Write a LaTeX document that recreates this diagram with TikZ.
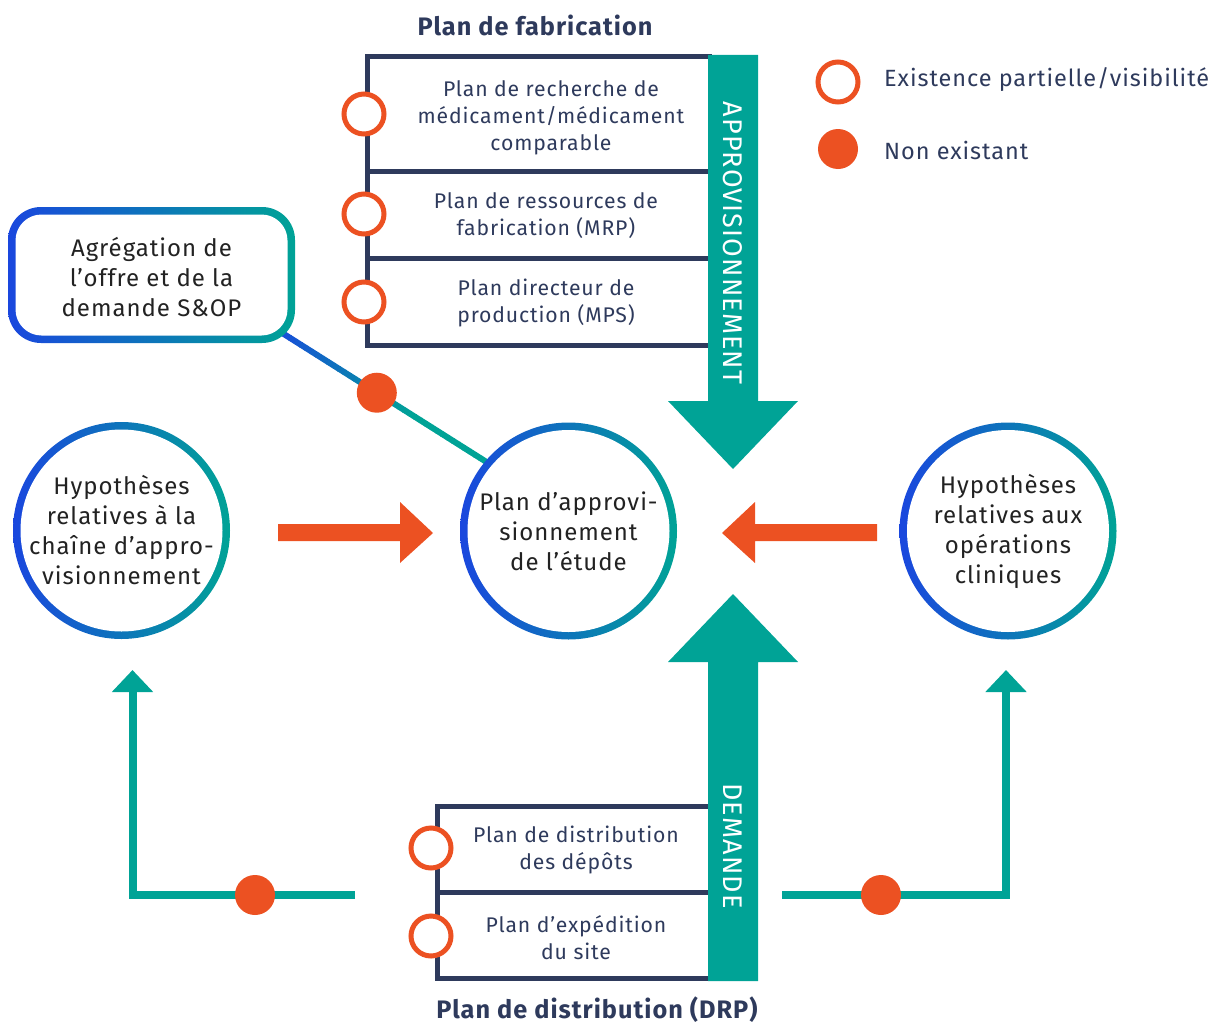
\documentclass[tikz,border=0pt]{standalone}
\usepackage{fontspec}
\setmainfont{Fira Sans}[LetterSpace=4]
\usetikzlibrary{calc,arrows.meta,backgrounds}
\definecolor{navy}{HTML}{2E3A5C}
\definecolor{teal1}{HTML}{00A396}
\definecolor{orng}{HTML}{EC5122}
\definecolor{blu}{HTML}{1A47DE}
\definecolor{txt}{HTML}{222222}
\tikzset{
 opendot/.style={circle, draw=orng, line width=5pt, fill=white, minimum size=40pt, inner sep=0pt},
 fulldot/.style={circle, fill=orng, minimum size=40pt, inner sep=0pt},
 boxtxt/.style={text=navy, align=center, font=\fontsize{21.2}{27}\selectfont},
 circtxt/.style={circle, minimum size=216pt, inner sep=0pt, text=txt, align=center, font=\fontsize{24}{30}\selectfont},
 navyline/.style={draw=navy, line width=5pt},
 tealline/.style={draw=teal1, line width=8pt},
 titletxt/.style={text=navy, inner sep=0pt, font=\fontsize{25.3}{30}\selectfont\bfseries},
 legtxt/.style={text=navy, anchor=west, inner sep=0pt, font=\fontsize{23.5}{28}\selectfont},
 bartxt/.style={text=white, rotate=-90, font=\fontsize{27}{30}\selectfont},
 tealtip/.style={-{Triangle[width=40pt,length=22pt]}},
}
\begin{document}
\begin{tikzpicture}[x=1pt,y=-1pt]
\useasboundingbox (0,0) rectangle (1215,1025);

% ---- main nodes
\node[circtxt] (hyp1) at (121.5,530.5) {Hypothèses\\relatives à la\\chaîne d’appro-\\visionnement};
\node[circtxt] (plan) at (568.5,531) {Plan d’approvi-\\sionnement\\de l’étude};
\node[circtxt] (hyp2) at (1008,531) {Hypothèses\\relatives aux\\opérations\\cliniques};
\node[minimum width=287pt, minimum height=136pt, inner sep=0pt, text=txt, align=center, font=\fontsize{24}{30}\selectfont] (sop) at (151.5,277) {Agrégation de\\l’offre et de la\\demande S\&OP};

% ---- background: gradient rings and connector
\begin{scope}[on background layer]
 \coordinate (l1) at (268,324);
 \coordinate (l2) at (plan.140);
 \foreach \i in {0,...,39}{
   \pgfmathsetmacro\ta{\i/40}
   \pgfmathsetmacro\tb{(\i+1.1)/40}
   \pgfmathsetmacro\p{max(0,100-\i*100/26)}
   \draw[line width=6pt, color=blu!\p!teal1] ($(l1)!\ta!(l2)$) -- ($(l1)!\tb!(l2)$);
 }
 \foreach \n in {hyp1,plan,hyp2}{
   \shade[left color=blu, right color=teal1] (\n.center) circle (108.5pt);
   \fill[white] (\n.center) circle (101pt);
 }
 \shade[left color=blu, right color=teal1, rounded corners=33pt] (8,207) rectangle (295,343);
 \fill[white, rounded corners=26pt] (15.5,214.5) rectangle (287.5,335.5);
\end{scope}
\node[fulldot] (d0) at ($(l1)!0.5!(l2)$) {};

% ---- top: plan de fabrication
\node[titletxt] (t1) at (535,25) {Plan de fabrication};
\draw[navyline] (712,57) -- (367,57) -- (367,345) -- (712,345);
\draw[navyline] (367,171) -- (712,171);
\draw[navyline] (367,258) -- (712,258);
\node[boxtxt] (b1) at (551,118) {Plan de recherche de\\médicament/médicament\\comparable};
\node[boxtxt] (b2) at (546,216) {Plan de ressources de\\fabrication (MRP)};
\node[boxtxt] (b3) at (546,303) {Plan directeur de\\production (MPS)};
\node[opendot] (o1) at (364,114) {};
\node[opendot] (o2) at (364,214) {};
\node[opendot] (o3) at (364,302) {};
\fill[teal1] (708,55) -- (758,55) -- (758,401) -- (798,401) -- (733,469) -- (668,401) -- (708,401) -- cycle;
\node[bartxt] (appro) at (733,243) {APPROVISIONNEMENT};

% ---- bottom: plan de distribution
\draw[navyline] (712,806) -- (437,806) -- (437,978) -- (712,978);
\draw[navyline] (437,892) -- (712,892);
\node[boxtxt] (b4) at (576,850) {Plan de distribution\\des dépôts};
\node[boxtxt] (b5) at (576,938) {Plan d’expédition\\du site};
\node[opendot] (o4) at (431,848) {};
\node[opendot] (o5) at (431,936) {};
\fill[teal1] (733,594) -- (798,662) -- (758,662) -- (758,981) -- (708,981) -- (708,662) -- (668,662) -- cycle;
\node[bartxt] (dem) at (733,846) {DEMANDE};
\node[titletxt] (t2) at (597,1010) {Plan de distribution (DRP)};

% ---- orange arrows
\fill[orng] (278,524) -- (400,524) -- (400,502) -- (433,533) -- (400,563) -- (400,541) -- (278,541) -- cycle;
\fill[orng] (877,524) -- (755,524) -- (755,502) -- (722,533) -- (755,563) -- (755,541) -- (877,541) -- cycle;

% ---- bracket connectors
\coordinate (lb) at (355,895);
\coordinate (lt) at (132.5,670);
\coordinate (rb) at (782,895);
\coordinate (rt) at (1006,670);
\draw[tealline, tealtip] (lb) -| (lt);
\draw[tealline, tealtip] (rb) -| (rt);
\node[fulldot] (d1) at (255,895) {};
\node[fulldot] (d2) at (881,895) {};

% ---- legend
\node[opendot] (lg1) at (838,82) {};
\node[fulldot] (lg2) at (838,149) {};
\node[legtxt] (lt1) at (884,80) {Existence partielle/visibilité};
\node[legtxt] (lt2) at (884,150) {Non existant};
\end{tikzpicture}
\end{document}
